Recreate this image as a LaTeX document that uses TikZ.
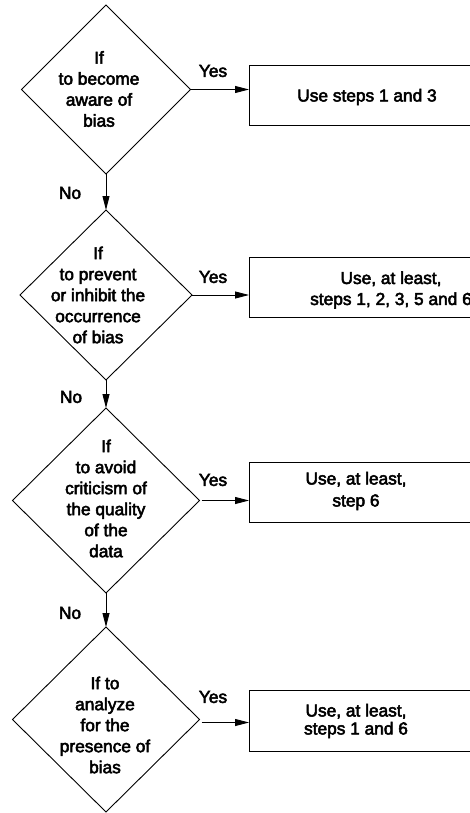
\documentclass[tikz,border=0pt]{standalone}
\usepackage{fontspec}
\setmainfont[FakeBold=3]{Liberation Sans}
\usetikzlibrary{shapes.geometric,arrows.meta}
\begin{document}
\begin{tikzpicture}[x=1pt,y=-1pt,
  dia/.style={draw,diamond,inner sep=0pt,outer sep=0pt,line width=0.9pt},
  boxnode/.style={draw,rectangle,inner sep=0pt,outer sep=0pt,anchor=west,line width=0.9pt,minimum width=280pt},
  txt/.style={align=center,inner sep=0pt,font=\fontsize{17.3}{21}\selectfont},
  lbl/.style={inner sep=0pt,font=\fontsize{17.3}{21}\selectfont},
  arr/.style={line width=0.9pt,-{Triangle[length=14pt,width=7pt]}}]
\useasboundingbox (0,0) rectangle (470,813);
\clip (0,0) rectangle (470,813);
% diamonds
\node[dia,minimum width=169pt,minimum height=169pt] (d1) at (106,89.5) {};
\node[dia,minimum width=172pt,minimum height=170pt] (d2) at (106,295) {};
\node[dia,minimum width=187pt,minimum height=185pt] (d3) at (106,500.5) {};
\node[dia,minimum width=187pt,minimum height=185pt] (d4) at (106,719.5) {};
% diamond texts
\node[txt] (t1) at (99,89) {If\\to become\\aware of\\bias};
\node[txt] (t2) at (98,295) {If\\to prevent\\or inhibit the\\occurrence\\of bias};
\node[txt] (t3) at (106,498.5) {If\\to avoid\\criticism of\\the quality\\of the\\data};
\node[txt] (t4) at (105,725) {If to\\analyze\\for the\\presence of\\bias};
% boxes
\node[boxnode,minimum height=60pt] (b1) at (249,95) {};
\node[boxnode,minimum height=60pt] (b2) at (249,287) {};
\node[boxnode,minimum height=60pt] (b3) at (249,492) {};
\node[boxnode,minimum height=61pt] (b4) at (249,720.5) {};
% box texts
\node[txt] (s1) at (367,97) {Use steps 1 and 3};
\node[txt] (s2) at (391,290) {Use, at least,\\steps 1, 2, 3, 5 and 6};
\node[txt,font=\fontsize{17.3}{22}\selectfont] (s3) at (356,491) {Use, at least,\\step 6};
\node[txt,font=\fontsize{17.3}{18}\selectfont] (s4) at (356,721) {Use, at least,\\steps 1 and 6};
% connectors
\draw[arr] (d1.south) -- (d2.north);
\draw[arr] (d2.south) -- (d3.north);
\draw[arr] (d3.south) -- (d4.north);
\draw[arr] (d1.east) -- (b1.west |- d1.east);
\draw[arr] (d2.east) -- (b2.west |- d2.east);
\draw[arr] ([xshift=2pt]d3.east) -- (b3.west |- d3.east);
\draw[arr] ([xshift=2pt,yshift=-3pt]d4.east) -- ([yshift=-3pt]b4.west |- d4.east);
% labels
\node[lbl] (y1) at (213,71) {Yes};
\node[lbl] (y2) at (213,277) {Yes};
\node[lbl] (y3) at (213,480) {Yes};
\node[lbl] (y4) at (213,697) {Yes};
\node[lbl] (n1) at (70,193) {No};
\node[lbl] (n2) at (71,397) {No};
\node[lbl] (n3) at (70,613) {No};
\end{tikzpicture}
\end{document}
